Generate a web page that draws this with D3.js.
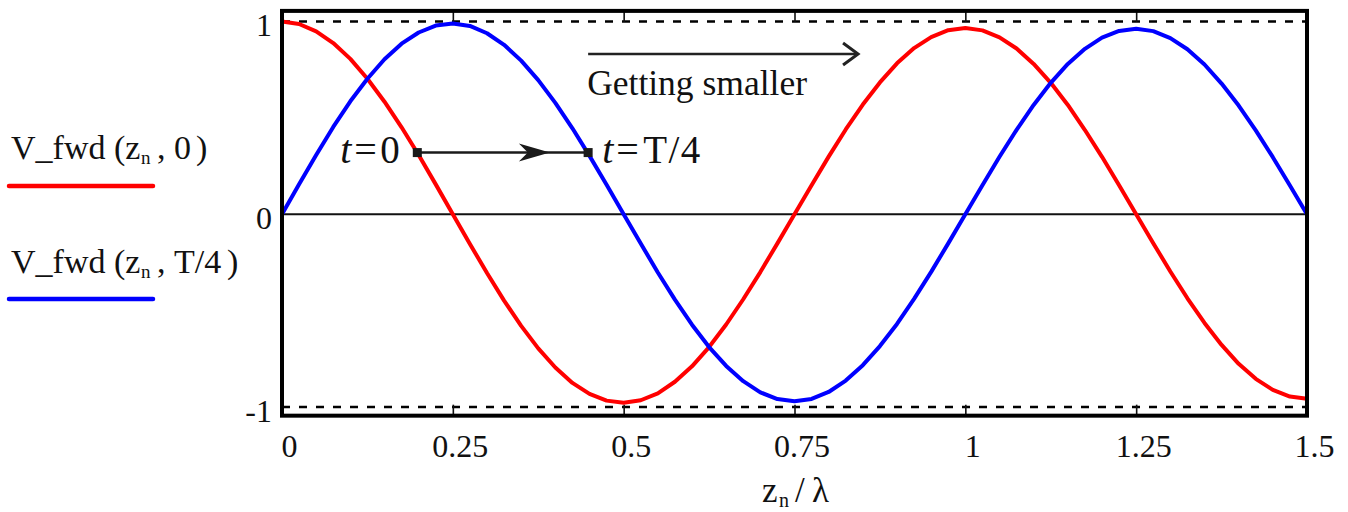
<!DOCTYPE html>
<html><head><meta charset="utf-8">
<script src="https://cdn.jsdelivr.net/npm/d3@7"></script>
<style>
body{margin:0;background:#fff}
svg{display:block}
text{font-family:"Liberation Serif","Times New Roman",serif;fill:#111}
</style>
</head><body>
<svg id="c" width="1348" height="512"></svg>
<script>
// ---- data ----
const zn = [0,0.025,0.05,0.075,0.1,0.125,0.15,0.175,0.2,0.225,0.25,0.275,0.3,0.325,0.35,0.375,0.4,0.425,0.45,0.475,
  0.5,0.525,0.55,0.575,0.6,0.625,0.65,0.675,0.7,0.725,0.75,0.775,0.8,0.825,0.85,0.875,0.9,0.925,0.95,0.975,
  1,1.025,1.05,1.075,1.1,1.125,1.15,1.175,1.2,1.225,1.25,1.275,1.3,1.325,1.35,1.375,1.4,1.425,1.45,1.475,1.5];
const vT0 = [1.000,0.987,0.949,0.888,0.806,0.703,0.584,0.451,0.307,0.155,
  0.000,-0.154,-0.305,-0.448,-0.579,-0.696,-0.795,-0.875,-0.932,-0.967,
  -0.978,-0.965,-0.929,-0.869,-0.789,-0.689,-0.572,-0.441,-0.300,-0.151,
  0.000,0.151,0.299,0.440,0.569,0.684,0.783,0.862,0.919,0.955,
  0.966,0.954,0.918,0.860,0.780,0.682,0.567,0.437,0.298,0.150,
  0.000,-0.150,-0.297,-0.436,-0.564,-0.678,-0.776,-0.854,-0.911,-0.946,-0.957];
const vT4 = [0.000,0.156,0.308,0.453,0.586,0.703,0.804,0.885,0.943,0.979,
  0.990,0.977,0.939,0.879,0.797,0.696,0.578,0.446,0.303,0.153,
  0.000,-0.152,-0.302,-0.443,-0.573,-0.689,-0.787,-0.866,-0.924,-0.959,
  -0.970,-0.958,-0.922,-0.863,-0.783,-0.684,-0.569,-0.439,-0.299,-0.151,
  0.000,0.151,0.298,0.438,0.567,0.682,0.780,0.858,0.916,0.951,
  0.962,0.950,0.914,0.856,0.777,0.678,0.564,0.435,0.296,0.149,0.000];
const seriesData = [vT0, vT4];
const seriesArgs = ["0", "T/4"];
const seriesColors = ["#ff0000", "#0000ff"];
const xTicks = [0,0.25,0.5,0.75,1,1.25,1.5];
const xTickLabels = ["0","0.25","0.5","0.75","1","1.25","1.5"];
const yTicks = [-1,0,1];
const yTickLabels = ["-1","0","1"];
const refLines = [1,-1];
const markerZ = [0.198, 0.448];
const markerV = 0.32;
const markerLabels = ["0", "T/4"];
const noteText = "Getting smaller";
const noteArrowZ = [0.448, 0.843];
const noteArrowV = 0.831;
const noteTextV = 0.624;

// ---- drawing ----
const svg = d3.select("#c");
const x = d3.scaleLinear().domain([0,1.5]).range([282,1307]);
const y = d3.scaleLinear().domain([-1,1]).range([407,21.5]);
const yTop = y(1.055), yBot = y(-1.045);

// reference dashed lines
svg.selectAll("line.ref").data(refLines).join("line")
  .attr("x1", x(0)).attr("x2", x(1.5))
  .attr("y1", d=>y(d)).attr("y2", d=>y(d))
  .attr("stroke","#000").attr("stroke-width",2.5).attr("stroke-dasharray","8,9");

// zero line
svg.append("line").attr("x1",x(0)).attr("x2",x(1.5)).attr("y1",y(0)).attr("y2",y(0))
  .attr("stroke","#111").attr("stroke-width",2);

// bottom axis ticks + labels
const gb = svg.append("g").attr("transform",`translate(0,${yBot})`)
  .call(d3.axisBottom(x).tickValues(xTicks).tickFormat((d,i)=>xTickLabels[i]).tickSize(-11).tickPadding(19));
gb.select(".domain").remove();
gb.selectAll(".tick line").attr("stroke","#111").attr("stroke-width",1.6);
gb.selectAll(".tick text").attr("font-size",32).attr("font-family","'Liberation Serif',serif").attr("fill","#111").attr("dx",7);

// top axis ticks
const gt = svg.append("g").attr("transform",`translate(0,${yTop})`)
  .call(d3.axisTop(x).tickValues(xTicks).tickFormat("").tickSize(-11));
gt.select(".domain").remove();
gt.selectAll(".tick line").attr("stroke","#111").attr("stroke-width",1.6);

// left labels
const gl = svg.append("g").attr("transform",`translate(${x(0)},0)`)
  .call(d3.axisLeft(y).tickValues(yTicks).tickFormat(d=>yTickLabels[yTicks.indexOf(d)]).tickSize(0).tickPadding(10));
gl.select(".domain").remove();
gl.selectAll(".tick text").attr("font-size",32).attr("font-family","'Liberation Serif',serif").attr("fill","#111").attr("dy","0.45em");

// curves
const line = d3.line().x((d,i)=>x(zn[i])).y(d=>y(d));
svg.selectAll("path.series").data(seriesData).join("path")
  .attr("class","series").attr("d",line).attr("fill","none")
  .attr("stroke",(d,i)=>seriesColors[i]).attr("stroke-width",4).attr("stroke-linejoin","round");

// frame
svg.append("rect").attr("x",x(0)).attr("y",yTop).attr("width",x(1.5)-x(0)).attr("height",yBot-yTop)
  .attr("fill","none").attr("stroke","#000").attr("stroke-width",4);

// legend
const legBase = [159, 273], legLine = [186, 299];
const closeX = [196, 227];
seriesArgs.forEach((a,i)=>{
  const t = svg.append("text").attr("y",legBase[i]).attr("font-size",34);
  t.append("tspan").attr("x",11).text("V_fwd");
  t.append("tspan").attr("x",114).text("(z");
  t.append("tspan").attr("x",141).attr("font-size",19).attr("dy",5).text("n");
  t.append("tspan").attr("x",157).attr("dy",-5).text(",");
  t.append("tspan").attr("x",174).text(a);
  t.append("tspan").attr("x",closeX[i]).text(")");
  svg.append("line").attr("x1",9).attr("x2",153).attr("y1",legLine[i]).attr("y2",legLine[i])
    .attr("stroke",seriesColors[i]).attr("stroke-width",4.5).attr("stroke-linecap","round");
});

// axis title
const at = svg.append("text").attr("y",502).attr("font-size",35);
at.append("tspan").attr("x",762).text("z");
at.append("tspan").attr("x",779).attr("font-size",20).attr("dy",5).text("n");
at.append("tspan").attr("x",795).attr("dy",-5).text("/");
at.append("tspan").attr("x",812).text("\u03bb");

// t markers and arrow
const my = y(markerV);
svg.append("line").attr("x1",x(markerZ[0])).attr("x2",x(markerZ[1])).attr("y1",my).attr("y2",my)
  .attr("stroke","#1a1a1a").attr("stroke-width",2.5);
const tip = x(0.392);
svg.append("path").attr("d",`M${tip-31},${my-9}L${tip},${my}L${tip-31},${my+9}L${tip-22},${my}Z`).attr("fill","#1a1a1a");
svg.selectAll("rect.mk").data(markerZ).join("rect").attr("class","mk")
  .attr("x",d=>x(d)-4.5).attr("y",my-4.5).attr("width",9).attr("height",9).attr("fill","#1a1a1a");
// labels
const lab = [
  {x0:x(markerZ[0])-77, eq:x(markerZ[0])-63, v:x(markerZ[0])-37, txt:markerLabels[0]},
  {x0:x(markerZ[1])+14, eq:x(markerZ[1])+28, v:x(markerZ[1])+55, txt:markerLabels[1]}
];
lab.forEach(l=>{
  svg.append("text").attr("x",l.x0).attr("y",my+10.5).attr("font-size",40).attr("font-style","italic").attr("fill","#222").text("t");
  svg.append("text").attr("x",l.eq).attr("y",my+10.5).attr("font-size",40).attr("fill","#222").text("=");
  svg.append("text").attr("x",l.v).attr("y",my+10.5).attr("font-size",39).attr("fill","#222").attr("letter-spacing",l.txt.length>1?1.5:0).text(l.txt);
});

// "Getting smaller" note
const ay = y(noteArrowV), ax1 = x(noteArrowZ[0]), ax2 = x(noteArrowZ[1]);
svg.append("line").attr("x1",ax1).attr("x2",ax2-1).attr("y1",ay).attr("y2",ay).attr("stroke","#222").attr("stroke-width",2.5);
svg.append("path").attr("d",`M${ax2-15},${ay-11}L${ax2},${ay}L${ax2-15},${ay+11}`).attr("fill","none")
  .attr("stroke","#222").attr("stroke-width",3);
svg.append("text").attr("x",ax1-1).attr("y",y(noteTextV)+1).attr("font-size",35.5).attr("fill","#222").text(noteText);
</script>
</body></html>
